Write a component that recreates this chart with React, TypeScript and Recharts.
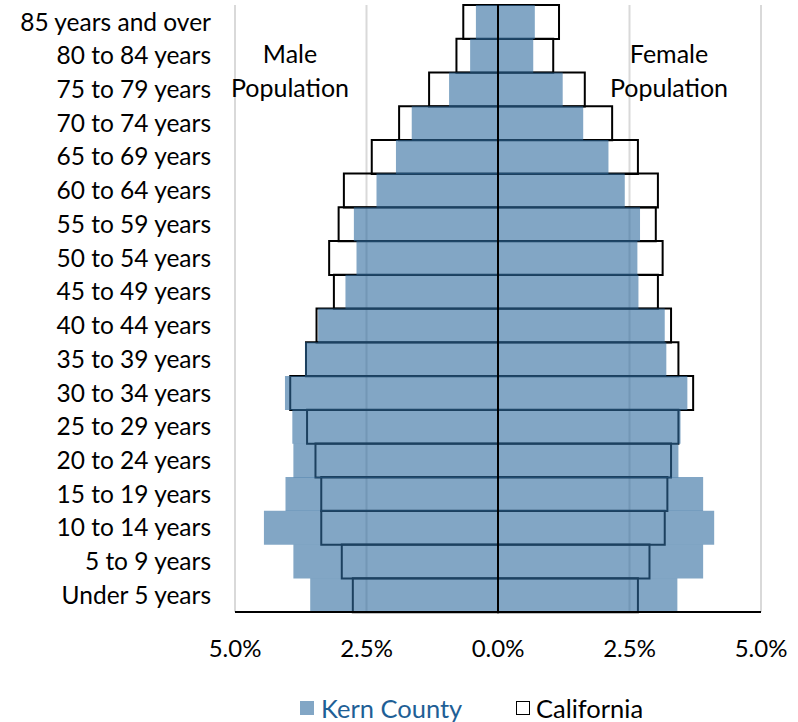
import React from "react";
import {
  BarChart,
  Bar,
  XAxis,
  YAxis,
  CartesianGrid,
  ReferenceLine,
} from "recharts";

const ageGroups = [
  "85 years and over",
  "80 to 84 years",
  "75 to 79 years",
  "70 to 74 years",
  "65 to 69 years",
  "60 to 64 years",
  "55 to 59 years",
  "50 to 54 years",
  "45 to 49 years",
  "40 to 44 years",
  "35 to 39 years",
  "30 to 34 years",
  "25 to 29 years",
  "20 to 24 years",
  "15 to 19 years",
  "10 to 14 years",
  "5 to 9 years",
  "Under 5 years",
];

const kernMale = [0.42, 0.53, 0.93, 1.64, 1.94, 2.31, 2.74, 2.69, 2.9, 3.42, 3.67, 4.05, 3.91, 3.89, 4.04, 4.45, 3.89, 3.57];
const kernFemale = [0.7, 0.67, 1.23, 1.62, 2.1, 2.41, 2.7, 2.65, 2.67, 3.17, 3.2, 3.6, 3.47, 3.43, 3.9, 4.11, 3.9, 3.41];
const caMale = [0.66, 0.79, 1.31, 1.88, 2.4, 2.93, 3.03, 3.21, 3.12, 3.45, 3.65, 3.95, 3.63, 3.47, 3.36, 3.36, 2.97, 2.76];
const caFemale = [1.16, 1.05, 1.65, 2.17, 2.66, 3.04, 3.0, 3.13, 3.04, 3.29, 3.43, 3.71, 3.43, 3.29, 3.22, 3.17, 2.88, 2.66];

const xTicks = [-5, -2.5, 0, 2.5, 5];

const data = ageGroups.map((age, i) => ({
  age,
  kernM: -kernMale[i],
  kernF: kernFemale[i],
  caM: -caMale[i],
  caF: caFemale[i],
}));

const FONT = "Lato, 'Open Sans', sans-serif";
const KERN_FILL = "#2E6A9E";
const KERN_OPACITY = 0.6;

export default function App() {
  return (
    <div
      style={{
        position: "absolute",
        left: 0,
        top: 0,
        width: 798,
        height: 722,
        background: "#fff",
        fontFamily: FONT,
      }}
    >
      <BarChart
        width={798}
        height={722}
        data={data}
        layout="vertical"
        stackOffset="sign"
        barCategoryGap={0}
        barGap={0}
        margin={{ top: 5, right: 37, left: 0, bottom: 0 }}
      >
        <CartesianGrid
          horizontal={false}
          vertical={true}
          stroke="#d9d9d9"
          strokeWidth={2}
          yAxisId="ca"
        />
        <XAxis
          type="number"
          domain={[-5, 5]}
          ticks={xTicks}
          tickFormatter={(v: number) => Math.abs(v).toFixed(1) + "%"}
          axisLine={{ stroke: "#000", strokeWidth: 2 }}
          tickLine={false}
          tickMargin={22}
          height={110}
          tick={{ fontSize: 24, fill: "#000", fontFamily: FONT }}
          interval={0}
        />
        <YAxis
          yAxisId="ca"
          type="category"
          dataKey="age"
          width={235}
          axisLine={false}
          tickLine={false}
          tickMargin={18}
          interval={0}
          tick={{ fontSize: 24.5, fill: "#000", fontFamily: FONT }}
        />
        <YAxis yAxisId="kern" type="category" dataKey="age" hide />
        <Bar
          yAxisId="ca"
          dataKey="caM"
          stackId="ca"
          fill="none"
          stroke="#000"
          strokeWidth={2}
          isAnimationActive={false}
        />
        <Bar
          yAxisId="ca"
          dataKey="caF"
          stackId="ca"
          fill="none"
          stroke="#000"
          strokeWidth={2}
          isAnimationActive={false}
        />
        <Bar
          yAxisId="kern"
          dataKey="kernM"
          stackId="kern"
          fill={KERN_FILL}
          fillOpacity={KERN_OPACITY}
          isAnimationActive={false}
        />
        <Bar
          yAxisId="kern"
          dataKey="kernF"
          stackId="kern"
          fill={KERN_FILL}
          fillOpacity={KERN_OPACITY}
          isAnimationActive={false}
        />
        <ReferenceLine x={0} yAxisId="ca" stroke="#000" strokeWidth={2} />
      </BarChart>

      <div
        style={{
          position: "absolute",
          left: 200,
          top: 36,
          width: 180,
          textAlign: "center",
          fontSize: 25,
          lineHeight: "34px",
          color: "#000",
        }}
      >
        Male
        <br />
        Population
      </div>
      <div
        style={{
          position: "absolute",
          left: 579,
          top: 36,
          width: 180,
          textAlign: "center",
          fontSize: 25,
          lineHeight: "34px",
          color: "#000",
        }}
      >
        Female
        <br />
        Population
      </div>

      <div
        style={{
          position: "absolute",
          left: 300,
          top: 692,
          height: 32,
          display: "flex",
          alignItems: "center",
          fontSize: 25.5,
          whiteSpace: "nowrap",
        }}
      >
        <span
          style={{
            display: "inline-block",
            width: 14,
            height: 14,
            background: KERN_FILL,
            opacity: KERN_OPACITY,
            marginRight: 7,
          }}
        />
        <span style={{ color: "#1F5F96" }}>Kern County</span>
      </div>
      <div
        style={{
          position: "absolute",
          left: 516,
          top: 692,
          height: 32,
          display: "flex",
          alignItems: "center",
          fontSize: 25.5,
          whiteSpace: "nowrap",
        }}
      >
        <span
          style={{
            display: "inline-block",
            width: 12,
            height: 12,
            border: "1.5px solid #000",
            background: "#fff",
            marginRight: 6,
          }}
        />
        <span style={{ color: "#000" }}>California</span>
      </div>
    </div>
  );
}
